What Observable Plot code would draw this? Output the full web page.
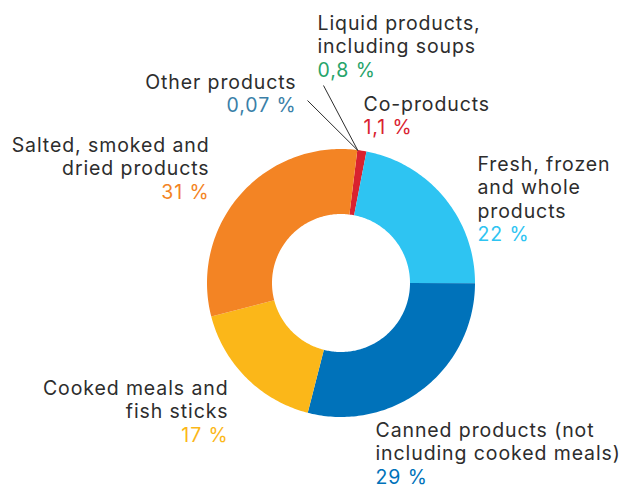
<!DOCTYPE html>
<html>
<head>
<meta charset="utf-8">
<script src="https://cdn.jsdelivr.net/npm/d3@7"></script>
<script src="https://cdn.jsdelivr.net/npm/@observablehq/plot@0.6"></script>
<style>
  html, body { margin: 0; padding: 0; background: #fff; }
  #chart svg { display: block; }
</style>
</head>
<body>
<div id="chart"></div>
<script>
// ---- data ----
const categories = [
  "Liquid products, including soups",
  "Other products",
  "Co-products",
  "Salted, smoked and dried products",
  "Fresh, frozen and whole products",
  "Cooked meals and fish sticks",
  "Canned products (not including cooked meals)"
];
const labelLines = [
  ["Liquid products,", "including soups"],
  ["Other products"],
  ["Co-products"],
  ["Salted, smoked and", "dried products"],
  ["Fresh, frozen", "and whole", "products"],
  ["Cooked meals and", "fish sticks"],
  ["Canned products (not", "including cooked meals)"]
];
const shares = [0.8, 0.07, 1.1, 31, 22, 17, 29];
const shareLabels = ["0,8 %", "0,07 %", "1,1 %", "31 %", "22 %", "17 %", "29 %"];
// clockwise order of the ring, starting near 12 o'clock
const ringOrder = [
  "Co-products",
  "Fresh, frozen and whole products",
  "Canned products (not including cooked meals)",
  "Cooked meals and fish sticks",
  "Salted, smoked and dried products"
];

// ---- styles / layout ----
const colors = ["#27a46a", "#3a7fa8", "#d9222f", "#f38424", "#2ec4f2", "#fbb719", "#0072ba"];
const W = 623, H = 489;
const cx = 341, cy = 283, rOuter = 134, rInner = 69;
const startDeg = 7;
// label layout: anchor side, x, first baseline y
const labelLayout = [
  {anchor: "start", x: 317, y: 29},
  {anchor: "end",   x: 296, y: 88},
  {anchor: "start", x: 363, y: 110},
  {anchor: "end",   x: 209, y: 151},
  {anchor: "start", x: 477, y: 170},
  {anchor: "end",   x: 228, y: 394},
  {anchor: "start", x: 375, y: 436}
];
const lineGap = 23.6;
// leader line starts (for the tiny slices)
const leaders = [
  {cat: categories[0], x: 323, y: 85},
  {cat: categories[1], x: 307, y: 100}
];

// ---- build ring geometry ----
const shareOf = new Map(categories.map((c, i) => [c, shares[i]]));
const ringTotal = d3.sum(ringOrder, c => shareOf.get(c));
const rows = [];
let a = startDeg;
for (const c of ringOrder) {
  const span = shareOf.get(c) / ringTotal * 360;
  const n = Math.max(2, Math.ceil(span) + 1);
  for (let k = 0; k < n; k++) {
    const t = (a + span * k / (n - 1)) * Math.PI / 180;
    rows.push({cat: c, t});
  }
  a += span;
}
const tipT = startDeg * Math.PI / 180;
const tip = {x: cx + rOuter * Math.sin(tipT), y: cy - rOuter * Math.cos(tipT)};

// ---- text rows ----
const nameRows = [], pctRows = [];
categories.forEach((c, i) => {
  const L = labelLayout[i];
  labelLines[i].forEach((s, j) => nameRows.push({text: s, anchor: L.anchor, x: L.x, y: L.y + j * lineGap}));
  pctRows.push({cat: c, text: shareLabels[i], anchor: L.anchor, x: L.x, y: L.y + labelLines[i].length * lineGap});
});

const font = "Inter, sans-serif";
const fs = 19.5;
const textMarks = ["start", "end"].flatMap(anchor => [
  Plot.text(nameRows.filter(d => d.anchor === anchor), {
    x: "x", y: "y", text: "text", textAnchor: anchor, lineAnchor: "bottom",
    fill: "#2d2d2d", fontSize: fs, fontFamily: font
  }),
  Plot.text(pctRows.filter(d => d.anchor === anchor), {
    x: "x", y: "y", text: "text", textAnchor: anchor, lineAnchor: "bottom",
    fill: "cat", fontSize: fs, fontFamily: font
  })
]);

const chart = Plot.plot({
  width: W, height: H,
  margin: 0,
  style: {letterSpacing: "0.9px"},
  x: {domain: [0, W], range: [0, W], axis: null},
  y: {domain: [0, H], range: [0, H], axis: null},
  color: {domain: categories, range: colors},
  marks: [
    Plot.area(rows, {
      x1: d => cx + rInner * Math.sin(d.t),
      y1: d => cy - rInner * Math.cos(d.t),
      x2: d => cx + rOuter * Math.sin(d.t),
      y2: d => cy - rOuter * Math.cos(d.t),
      z: "cat", fill: "cat", curve: "linear"
    }),
    Plot.link(leaders, {x1: "x", y1: "y", x2: () => tip.x, y2: () => tip.y, stroke: "#2d2d2d", strokeWidth: 1}),
    ...textMarks
  ]
});
document.getElementById("chart").appendChild(chart);
</script>
</body>
</html>
